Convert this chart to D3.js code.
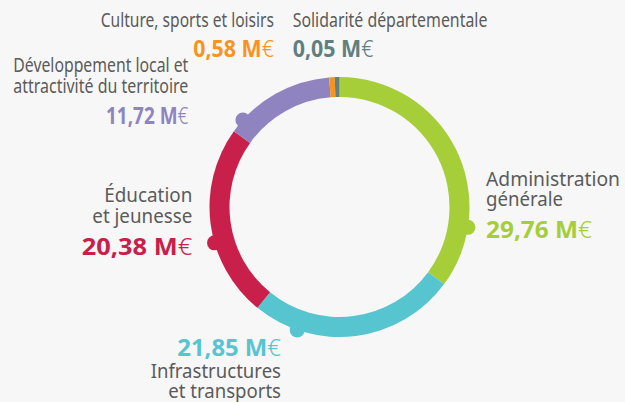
<!DOCTYPE html>
<html>
<head>
<meta charset="utf-8">
<script src="https://cdn.jsdelivr.net/npm/d3@7"></script>
<style>
  html, body { margin: 0; padding: 0; background: #f7f7f7; }
  svg { display: block; }
</style>
</head>
<body>
<svg id="chart"></svg>
<script>
var categories = ["Administration générale", "Infrastructures et transports", "Éducation et jeunesse",
  "Développement local et attractivité du territoire", "Culture, sports et loisirs", "Solidarité départementale"];
var values = [29.76, 21.85, 20.38, 11.72, 0.58, 0.05];
var labelLines = [["Administration", "générale"], ["Infrastructures", "et transports"], ["Éducation", "et jeunesse"],
  ["Développement local et", "attractivité du territoire"], ["Culture, sports et loisirs"], ["Solidarité départementale"]];
var colors = ["#a6ce39", "#56c5d0", "#c8204a", "#9084c0", "#f7941d", "#5e8081"];

var width = 625, height = 402;
var cx = 339.5, cy = 207;
var outerR = 130, innerR = 110;
var minShown = 0.5; // tiny slices stay visible

// label layout: x, anchor, line baselines + widths, value baseline + width, dot angle (deg)
var layout = [
  {x: 486, anchor: "start", lines: [185.7, 205.5], lineW: [134, 77], valY: 237.5, valW: 106, valueFirst: false, dot: 99},
  {x: 281, anchor: "end", lines: [378.3, 398.3], lineW: [130.3, 112.7], valY: 356, valW: 103.7, valueFirst: true, dot: 199},
  {x: 192.3, anchor: "end", lines: [201.7, 223.3], lineW: [88, 100], valY: 255, valW: 110.6, valueFirst: false, dot: 254},
  {x: 188.3, anchor: "end", lines: [71.7, 93.3], lineW: [175, 175], valY: 124, valW: 82.3, valueFirst: false, dot: 312},
  {x: 274, anchor: "end", lines: [26.7], lineW: [173.3], valY: 57.3, valW: 80.7, valueFirst: false, dot: null},
  {x: 292.7, anchor: "start", lines: [26.7], lineW: [194.7], valY: 57.3, valW: 80.7, valueFirst: false, dot: null}
];

var fr = d3.formatLocale({decimal: ",", thousands: "\u00a0", grouping: [3], currency: ["", ""]});
var fmt = fr.format(".2f");

var data = categories.map(function(c, i) {
  return {name: c, value: values[i], color: colors[i], lines: labelLines[i], pos: layout[i]};
});

var svg = d3.select("#chart")
  .attr("width", width)
  .attr("height", height)
  .style("font-family", "'Noto Sans', 'Open Sans', sans-serif");

svg.append("rect")
  .attr("width", width)
  .attr("height", height)
  .attr("fill", "#f7f7f7");

var pie = d3.pie()
  .sort(null)
  .value(function(d) { return Math.max(d.value, minShown); });

var arc = d3.arc()
  .innerRadius(innerR)
  .outerRadius(outerR);

var ring = svg.append("g")
  .attr("transform", "translate(" + cx + "," + cy + ")");

ring.selectAll("path")
  .data(pie(data))
  .enter()
  .append("path")
  .attr("d", arc)
  .attr("fill", function(d) { return d.data.color; });

ring.selectAll("circle")
  .data(data.filter(function(d) { return d.pos.dot != null; }))
  .enter()
  .append("circle")
  .attr("cx", function(d) { return d3.pointRadial(d.pos.dot * Math.PI / 180, outerR)[0]; })
  .attr("cy", function(d) { return d3.pointRadial(d.pos.dot * Math.PI / 180, outerR)[1]; })
  .attr("r", 7.5)
  .attr("fill", function(d) { return d.color; });

var labels = svg.append("g");

data.forEach(function(d) {
  var p = d.pos;
  d.lines.forEach(function(line, j) {
    labels.append("text")
      .text(line)
      .attr("x", p.x)
      .attr("y", p.lines[j])
      .attr("text-anchor", p.anchor)
      .attr("font-size", 19)
      .attr("fill", "#5b5b5b")
      .attr("textLength", p.lineW[j])
      .attr("lengthAdjust", "spacingAndGlyphs");
  });

  var v = labels.append("text")
    .attr("x", p.x)
    .attr("y", p.valY)
    .attr("text-anchor", p.anchor)
    .attr("font-size", 24)
    .attr("fill", d.color)
    .attr("textLength", p.valW)
    .attr("lengthAdjust", "spacingAndGlyphs");
  v.append("tspan")
    .attr("font-weight", 700)
    .text(fmt(d.value) + " M");
  v.append("tspan")
    .attr("font-weight", 300)
    .text("€");
});
</script>
</body>
</html>
